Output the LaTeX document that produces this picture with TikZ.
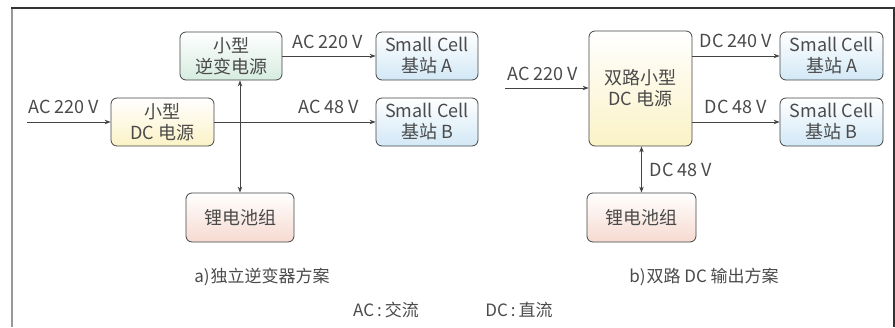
\documentclass[tikz,border=0pt]{standalone}
\usepackage{fontspec}
\setmainfont{Noto Sans CJK SC}
\usetikzlibrary{arrows.meta}
\definecolor{txt}{HTML}{4A4A4A}
\definecolor{edge}{HTML}{444444}
\definecolor{cgreen}{HTML}{D6ECE0}
\definecolor{cyellow}{HTML}{FBF2C6}
\definecolor{cblue}{HTML}{D2E8F6}
\definecolor{cpink}{HTML}{F6DAD0}
\tikzset{
  box/.style={draw=edge, line width=0.8pt, rounded corners=6pt, align=center,
    inner sep=0pt, text=txt, font=\fontsize{18}{21}\selectfont, top color=white},
  lbl/.style={text=txt, font=\fontsize{18}{21}\selectfont, inner sep=0pt},
  captxt/.style={text=txt, font=\fontsize{17}{20}\selectfont, inner sep=0pt},
  conn/.style={draw=edge, line width=0.8pt, -{Stealth[length=6pt,width=4.5pt]}},
  bconn/.style={draw=edge, line width=0.8pt, {Stealth[length=6pt,width=4.5pt]}-{Stealth[length=6pt,width=4.5pt]}}
}
\begin{document}
\begin{tikzpicture}[x=1pt,y=-1pt]
\useasboundingbox (0,0) rectangle (895,327);
% frame
\draw[line width=2pt, draw=gray!80] (12,8) -- (12,327);
\draw[line width=1.2pt, draw=black!80] (11,8) -- (894,8) -- (894,327);

% left panel
\node[box, bottom color=cgreen, minimum width=102pt, minimum height=48pt] (inv) at (231,56) {小型\\逆变电源};
\node[box, bottom color=cyellow, minimum width=103pt, minimum height=48pt] (dcp) at (162.5,122) {小型\\DC 电源};
\node[box, bottom color=cblue, minimum width=102pt, minimum height=48pt] (scA1) at (427,56) {Small Cell\\基站 A};
\node[box, bottom color=cblue, minimum width=102pt, minimum height=48pt] (scB1) at (427,122) {Small Cell\\基站 B};
\node[box, bottom color=cpink, minimum width=108pt, minimum height=49pt] (bat1) at (240,217.5) {锂电池组};
\coordinate (in1) at (27,122);

\draw[conn] (in1) -- (dcp);
\draw[conn] (inv) -- (scA1);
\draw[conn] (dcp) -- (scB1);
\draw[bconn] (inv.south -| bat1) -- (bat1);

\node[lbl] (l1) at (64,107) {AC 220 V};
\node[lbl] (l2) at (328,42) {AC 220 V};
\node[lbl] (l3) at (329,107) {AC 48 V};

% right panel
\node[box, bottom color=cyellow, minimum width=103pt, minimum height=115pt] (dual) at (640.5,88.5) {双路小型\\DC 电源};
\node[box, bottom color=cblue, minimum width=103pt, minimum height=48pt] (scA2) at (831.5,56) {Small Cell\\基站 A};
\node[box, bottom color=cblue, minimum width=103pt, minimum height=48pt] (scB2) at (831.5,122) {Small Cell\\基站 B};
\node[box, bottom color=cpink, minimum width=109pt, minimum height=49pt] (bat2) at (641.5,217.5) {锂电池组};
\coordinate (in2) at (505,88);

\draw[conn] (in2) -- (in2 -| dual.west);
\draw[conn] (dual.east |- scA2) -- (scA2);
\draw[conn] (dual.east |- scB2) -- (scB2);
\draw[bconn] (dual.south -| bat2) -- (bat2);

\node[lbl] (r1) at (543,74) {AC 220 V};
\node[lbl] (r2) at (736,41) {DC 240 V};
\node[lbl] (r3) at (736,107) {DC 48 V};
\node[lbl] (r4) at (681,170) {DC 48 V};

% captions
\node[captxt] (ca) at (262,277) {a)\hspace{1pt}独立逆变器方案};
\node[captxt] (cb) at (704,277) {b)\hspace{1pt}双路 DC 输出方案};
\node[captxt] (ka) at (386,310) {AC\hspace{3pt}:\hspace{3pt}交流};
\node[captxt] (kb) at (519,310) {DC\hspace{3pt}:\hspace{3pt}直流};
\end{tikzpicture}
\end{document}
